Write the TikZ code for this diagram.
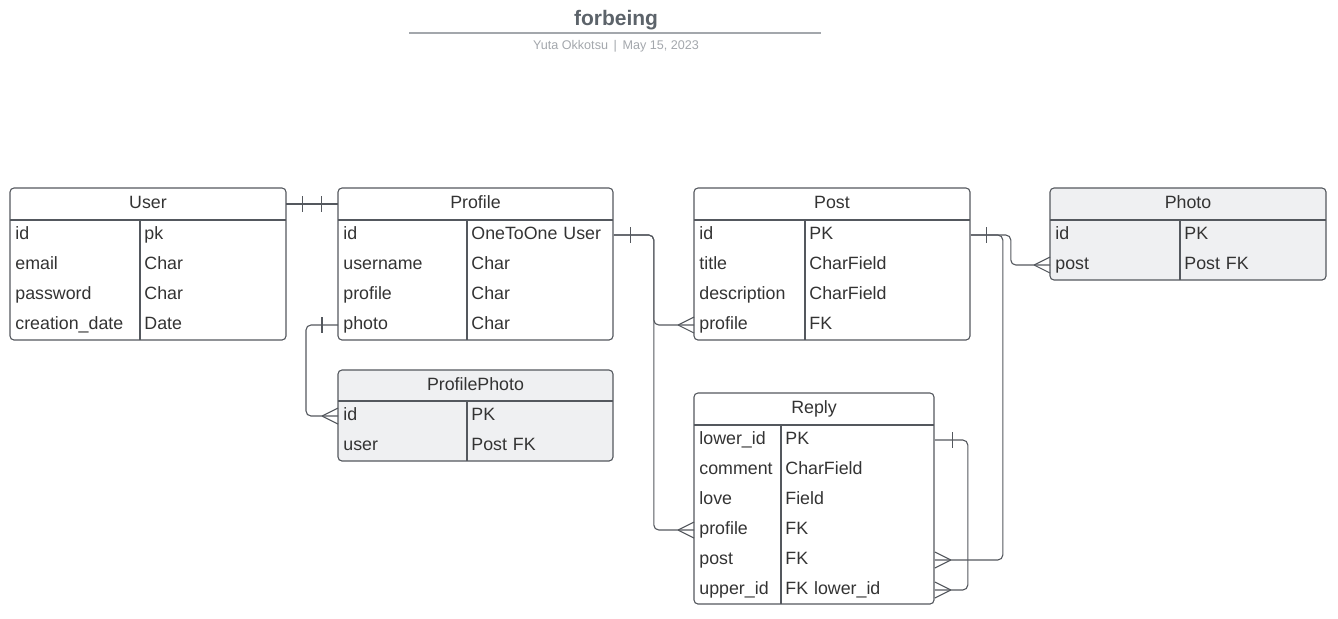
\documentclass[tikz,border=0pt]{standalone}
\usepackage{fontspec}
\setmainfont{Liberation Sans}
\usetikzlibrary{calc}
\definecolor{boxgray}{HTML}{54585E}
\definecolor{txtgray}{HTML}{333333}
\definecolor{fillgray}{HTML}{EFF0F2}
\definecolor{titlegray}{HTML}{5C636A}
\definecolor{subgray}{HTML}{A3A7AC}
\newcommand{\erfont}{\fontsize{8.9}{10}\selectfont}
\tikzset{
  tbl/.style={draw=boxgray, line width=0.55pt, rounded corners=2pt},
  erline/.style={draw=boxgray, line width=0.55pt, rounded corners=2.5pt},
  head/.style={inner sep=0pt, text=txtgray, font=\erfont, text height=6.5pt, text depth=2.5pt, minimum height=16pt, minimum width=#1},
  fld/.style={anchor=west, inner xsep=2.5pt, inner ysep=0pt, text width=#1, align=left, minimum height=15pt, text height=6.5pt, text depth=2.5pt, font=\erfont, text=txtgray},
  typ/.style={fld=#1, inner xsep=2pt},
  crow/.pic={\draw[erline] (-16,0) -- (0,-8) (-16,0) -- (0,8);},
  bar/.pic={\draw[erline] (0,-8) -- (0,8);}
}
\begin{document}
\begin{tikzpicture}[x=0.5pt, y=-0.5pt]
\useasboundingbox (0,0) rectangle (1338,618);

% Title block
\node[font=\fontsize{10.5}{12}\selectfont\bfseries, text=titlegray] (title) at (616,20) {forbeing};
\draw[draw=subgray, line width=0.8pt] (409,33) -- (821,33);
\node[font=\fontsize{6.3}{8}\selectfont, text=subgray] (subtitle) at (616,46.5) {Yuta Okkotsu~\,|\,~May 15, 2023};

% Table User
\draw[tbl] (10,188) rectangle (286,340);
\draw[tbl] (10,220) -- (286,220);
\draw[tbl] (140,220) -- (140,340);
\node[head=138pt] (user-h) at (148,204) {User};
\node[fld=60pt] (user-id) at (10,235) {id};
\node[typ=69pt] (user-id-t) at (140,235) {pk};
\node[fld=60pt] (user-email) at (10,265) {email};
\node[typ=69pt] (user-email-t) at (140,265) {Char};
\node[fld=60pt] (user-pass) at (10,295) {password};
\node[typ=69pt] (user-pass-t) at (140,295) {Char};
\node[fld=60pt] (user-date) at (10,325) {creation\_date};
\node[typ=69pt] (user-date-t) at (140,325) {Date};

% Table Profile
\draw[tbl] (338,188) rectangle (613,340);
\draw[tbl] (338,220) -- (613,220);
\draw[tbl] (467,220) -- (467,340);
\node[head=137.5pt] (profile-h) at (475.5,204) {Profile};
\node[fld=59.5pt] (profile-id) at (338,235) {id};
\node[typ=69pt] (profile-id-t) at (467,235) {OneToOne User};
\node[fld=59.5pt] (profile-name) at (338,265) {username};
\node[typ=69pt] (profile-name-t) at (467,265) {Char};
\node[fld=59.5pt] (profile-prof) at (338,295) {profile};
\node[typ=69pt] (profile-prof-t) at (467,295) {Char};
\node[fld=59.5pt] (profile-photo) at (338,325) {photo};
\node[typ=69pt] (profile-photo-t) at (467,325) {Char};

% Table Post
\draw[tbl] (694,188) rectangle (970,340);
\draw[tbl] (694,220) -- (970,220);
\draw[tbl] (805,220) -- (805,340);
\node[head=138pt] (post-h) at (832,204) {Post};
\node[fld=50.5pt] (post-id) at (694,235) {id};
\node[typ=78.5pt] (post-id-t) at (805,235) {PK};
\node[fld=50.5pt] (post-title) at (694,265) {title};
\node[typ=78.5pt] (post-title-t) at (805,265) {CharField};
\node[fld=50.5pt] (post-desc) at (694,295) {description};
\node[typ=78.5pt] (post-desc-t) at (805,295) {CharField};
\node[fld=50.5pt] (post-prof) at (694,325) {profile};
\node[typ=78.5pt] (post-prof-t) at (805,325) {FK};

% Table Photo
\draw[tbl, fill=fillgray] (1050,188) rectangle (1326,280);
\draw[tbl] (1050,220) -- (1326,220);
\draw[tbl] (1180,220) -- (1180,280);
\node[head=138pt] (photo-h) at (1188,204) {Photo};
\node[fld=60pt] (photo-id) at (1050,235) {id};
\node[typ=69pt] (photo-id-t) at (1180,235) {PK};
\node[fld=60pt] (photo-post) at (1050,265) {post};
\node[typ=69pt] (photo-post-t) at (1180,265) {Post FK};

% Table ProfilePhoto
\draw[tbl, fill=fillgray] (338,370) rectangle (613,461);
\draw[tbl] (338,401) -- (613,401);
\draw[tbl] (467,401) -- (467,461);
\node[head=137.5pt] (pphoto-h) at (475.5,386) {ProfilePhoto};
\node[fld=59.5pt] (pphoto-id) at (338,416) {id};
\node[typ=69pt] (pphoto-id-t) at (467,416) {PK};
\node[fld=59.5pt] (pphoto-user) at (338,446) {user};
\node[typ=69pt] (pphoto-user-t) at (467,446) {Post FK};

% Table Reply
\draw[tbl] (694,393) rectangle (934,604);
\draw[tbl] (694,425) -- (934,425);
\draw[tbl] (781,425) -- (781,604);
\node[head=120pt] (reply-h) at (814,409) {Reply};
\node[fld=38.5pt] (reply-low) at (694,440) {lower\_id};
\node[typ=72.5pt] (reply-low-t) at (781,440) {PK};
\node[fld=38.5pt] (reply-comm) at (694,470) {comment};
\node[typ=72.5pt] (reply-comm-t) at (781,470) {CharField};
\node[fld=38.5pt] (reply-love) at (694,500) {love};
\node[typ=72.5pt] (reply-love-t) at (781,500) {Field};
\node[fld=38.5pt] (reply-prof) at (694,530) {profile};
\node[typ=72.5pt] (reply-prof-t) at (781,530) {FK};
\node[fld=38.5pt] (reply-post) at (694,560) {post};
\node[typ=72.5pt] (reply-post-t) at (781,560) {FK};
\node[fld=38.5pt] (reply-up) at (694,590) {upper\_id};
\node[typ=72.5pt] (reply-up-t) at (781,590) {FK lower\_id};

% User -- Profile (one and only one)
\draw[erline] (user-h.east) -- (profile-h.west);
\pic at ($(user-h.east)+(16,0)$) {bar};
\pic at ($(user-h.east)+(35,0)$) {bar};

% Profile id -- Post profile / Reply profile
\draw[erline] (profile-id-t.east) -- ++(40,0) |- (post-prof.west);
\draw[erline] (profile-id-t.east) -- ++(40,0) |- (reply-prof.west);
\pic at ($(profile-id-t.east)+(17,0)$) {bar};
\pic at (post-prof.west) {crow};
\pic at (reply-prof.west) {crow};

% Post id -- Photo post
\draw[erline] (post-id-t.east) -- ++(40,0) |- (photo-post.west);
\pic at ($(post-id-t.east)+(16,0)$) {bar};
\pic at (photo-post.west) {crow};

% Post id -- Reply post
\draw[erline] (post-id-t.east) -- ++(32,0) |- (reply-post-t.east);
\pic[rotate=180] at (reply-post-t.east) {crow};

% Reply lower_id -- Reply upper_id
\draw[erline] (reply-low-t.east) -- ++(33,0) |- (reply-up-t.east);
\pic at ($(reply-low-t.east)+(18,0)$) {bar};
\pic[rotate=180] at (reply-up-t.east) {crow};

% Profile photo -- ProfilePhoto id
\draw[erline] (profile-photo.west) -- ++(-32,0) |- (pphoto-id.west);
\pic at ($(profile-photo.west)+(-16,0)$) {bar};
\pic at (pphoto-id.west) {crow};
\end{tikzpicture}
\end{document}
